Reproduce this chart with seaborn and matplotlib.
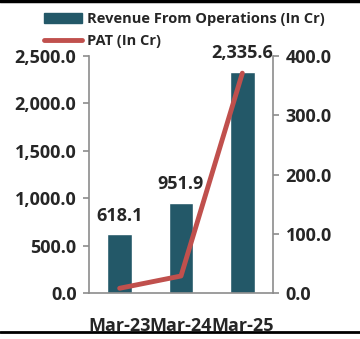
import matplotlib
matplotlib.use("Agg")
import matplotlib.pyplot as plt
import seaborn as sns
import pandas as pd
from matplotlib.lines import Line2D

categories = ["Mar-23", "Mar-24", "Mar-25"]
revenue = [618.1, 951.9, 2335.6]
pat = [8.0, 28.7, 371.0]
left_ticks = [0, 500, 1000, 1500, 2000, 2500]
right_ticks = [0, 100, 200, 300, 400]

sns.set_theme(style="white")
plt.rcParams['font.family'] = ['Open Sans', 'DejaVu Sans']

df = pd.DataFrame({"period": categories, "revenue": revenue, "pat": pat})

fig = plt.figure(figsize=(3.6, 3.39), dpi=100)
ax = fig.add_axes([89/360, 46/339, 184/360, 237/339])
bar_color = "#235868"
line_color = "#C0504D"
fs = 13
sns.barplot(data=df, x="period", y="revenue", color=bar_color, width=0.4,
            saturation=1, ax=ax)
ax.set_ylim(0, 2500)
ax.set_yticks(left_ticks)
ax.set_yticklabels([f"{v:,.1f}" for v in left_ticks], fontsize=fs, fontweight="bold")
ax.set_xlabel("")
ax.set_ylabel("")
ax.set_xlim(-0.5, 2.5)
ax.set_xticks([0, 1, 2])
ax.set_xticklabels(categories, fontsize=fs, fontweight="bold")
ax.set_xticks([-0.5, 0.5, 1.5, 2.5], minor=True)
ax.tick_params(axis="x", which="major", length=0, pad=17)
ax.tick_params(axis="x", which="minor", length=4, color="#8c8c8c", width=1.2, direction="out")
ax.tick_params(axis="y", length=4, color="#8c8c8c", width=1.2, direction="out", pad=5)
for s in ["top", "right"]:
    ax.spines[s].set_visible(False)
for s in ["left", "bottom"]:
    ax.spines[s].set_color("#8c8c8c")
    ax.spines[s].set_linewidth(1.2)

for i, v in enumerate(revenue):
    ax.text(i, v + 100, f"{v:,.1f}", ha="center", va="bottom", fontsize=fs, fontweight="bold")

ax2 = ax.twinx()
sns.lineplot(x=[0, 1, 2], y=pat, ax=ax2, color=line_color, linewidth=3.5)
ax2.set_ylim(0, 400)
ax2.set_yticks(right_ticks)
ax2.set_yticklabels([f"{v:,.1f}" for v in right_ticks], fontsize=fs, fontweight="bold")
ax2.set_xlim(-0.5, 2.5)
ax2.set_ylabel("")
ax2.tick_params(axis="y", length=4, color="#8c8c8c", width=1.2, direction="out", pad=5)
for s in ["top", "left", "bottom"]:
    ax2.spines[s].set_visible(False)
ax2.spines["right"].set_color("#8c8c8c")
ax2.spines["right"].set_linewidth(1.2)

handles = [plt.Rectangle((0, 0), 1, 1, color=bar_color),
           Line2D([0], [0], color=line_color, linewidth=3.5, solid_capstyle="round")]
labels = ["Revenue From Operations (In Cr)", "PAT (In Cr)"]
fig.legend(handles, labels, loc="upper left", bbox_to_anchor=(37/360, 1 - 5/339),
           frameon=False, prop={"weight": "bold", "size": 10.5}, handlelength=2.6,
           handleheight=0.7, handletextpad=0.35, labelspacing=0.55, borderpad=0)

fig.add_artist(Line2D([0, 1], [1 - 1/339, 1 - 1/339], color="black", linewidth=2.5, transform=fig.transFigure))
fig.add_artist(Line2D([0, 1], [7/339, 7/339], color="black", linewidth=2, transform=fig.transFigure))

fig.savefig("out.png", dpi=100, facecolor="white")
